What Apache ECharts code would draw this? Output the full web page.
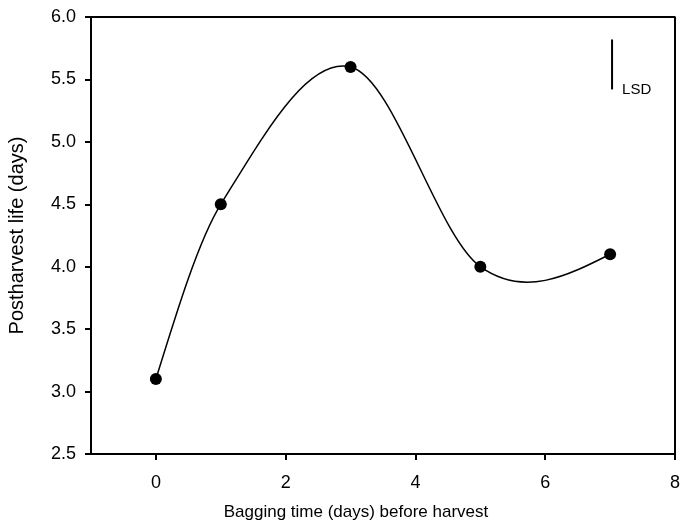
<!DOCTYPE html>
<html>
<head>
<meta charset="utf-8">
<script src="https://cdn.jsdelivr.net/npm/echarts@6/dist/echarts.min.js"></script>
<style>
  html, body { margin: 0; padding: 0; background: #fff; }
  #chart { width: 696px; height: 522px; }
</style>
</head>
<body>
<div id="chart"></div>
<script>
// bagging time (days) and postharvest life (days)
const baggingDays = [0, 1, 3, 5, 7]
const postharvestLife = [3.1, 4.5, 5.6, 4.0, 4.1]
// LSD bar: x position, top and bottom
const lsdX = 7.03
const lsdTop = 5.82
const lsdBottom = 5.42
const xTicks = [0, 2, 4, 6, 8]

const font = 'Liberation Sans, Arial, sans-serif'
const chart = echarts.init(document.getElementById('chart'))

// tangent at each point (central difference, natural-ish ends)
function tangents(xs, ys) {
  const n = xs.length
  const m = []
  for (let i = 1; i < n - 1; i++) {
    m[i] = (ys[i + 1] - ys[i - 1]) / (xs[i + 1] - xs[i - 1])
  }
  const s0 = (ys[1] - ys[0]) / (xs[1] - xs[0])
  const sn = (ys[n - 1] - ys[n - 2]) / (xs[n - 1] - xs[n - 2])
  m[0] = (3 * s0 - m[1]) / 2
  m[n - 1] = (3 * sn - m[n - 2]) / 2
  return m
}
const slopes = tangents(baggingDays, postharvestLife)

// one cubic segment from point i to i+1
function renderSegment(params, api) {
  const i = params.dataIndex
  if (i >= baggingDays.length - 1) return null
  const x0 = baggingDays[i]
  const y0 = postharvestLife[i]
  const x1 = baggingDays[i + 1]
  const y1 = postharvestLife[i + 1]
  const h = (x1 - x0) / 3
  const p0 = api.coord([x0, y0])
  const c1 = api.coord([x0 + h, y0 + h * slopes[i]])
  const c2 = api.coord([x1 - h, y1 - h * slopes[i + 1]])
  const p1 = api.coord([x1, y1])
  return {
    type: 'bezierCurve',
    shape: {
      x1: p0[0], y1: p0[1],
      x2: p1[0], y2: p1[1],
      cpx1: c1[0], cpy1: c1[1],
      cpx2: c2[0], cpy2: c2[1]
    },
    style: { stroke: '#000', lineWidth: 1.5, fill: null }
  }
}

const points = baggingDays.map((d, i) => [d, postharvestLife[i]])

const option = {
  animation: false,
  grid: {
    left: 91,
    right: 21,
    top: 17,
    bottom: 68,
    outerBoundsMode: 'none'
  },
  xAxis: {
    type: 'value',
    min: -1,
    max: 8,
    interval: 1,
    name: 'Bagging time (days) before harvest',
    nameLocation: 'middle',
    nameGap: 50,
    nameTextStyle: {
      color: '#000',
      fontSize: 17,
      fontFamily: font,
      padding: [0, 54, 0, 0]
    },
    axisLine: { onZero: false, lineStyle: { color: '#000', width: 2 } },
    axisTick: {
      show: true,
      length: 6,
      lineStyle: { color: '#000', width: 2 },
      customValues: xTicks
    },
    axisLabel: {
      color: '#000',
      fontSize: 18,
      fontFamily: font,
      margin: 20,
      customValues: xTicks
    },
    splitLine: { show: false }
  },
  yAxis: {
    type: 'value',
    min: 2.5,
    max: 6.0,
    interval: 0.5,
    name: 'Postharvest life (days)',
    nameLocation: 'middle',
    nameGap: 64,
    nameTextStyle: { color: '#000', fontSize: 20, fontFamily: font },
    axisLine: { onZero: false, lineStyle: { color: '#000', width: 2 } },
    axisTick: { length: 6, lineStyle: { color: '#000', width: 2 } },
    axisLabel: {
      color: '#000',
      fontSize: 18,
      fontFamily: font,
      margin: 15,
      formatter: v => v.toFixed(1)
    },
    splitLine: { show: false }
  },
  series: [
    {
      type: 'custom',
      data: points,
      renderItem: renderSegment,
      silent: true,
      z: 2
    },
    {
      type: 'scatter',
      data: points,
      symbol: 'circle',
      symbolSize: 12,
      itemStyle: { color: '#000', opacity: 1 },
      z: 3
    },
    {
      type: 'line',
      data: [[lsdX, lsdTop], [lsdX, lsdBottom]],
      symbol: 'none',
      lineStyle: { color: '#000', width: 2 },
      endLabel: {
        show: true,
        formatter: 'LSD',
        color: '#000',
        fontSize: 15,
        fontFamily: font,
        offset: [2, 0]
      }
    },
    {
      // top and right frame lines
      type: 'line',
      data: [[-1, 6.0], [8, 6.0], [8, 2.5]],
      symbol: 'none',
      silent: true,
      lineStyle: { color: '#000', width: 2 }
    }
  ]
}

chart.setOption(option)
</script>
</body>
</html>
